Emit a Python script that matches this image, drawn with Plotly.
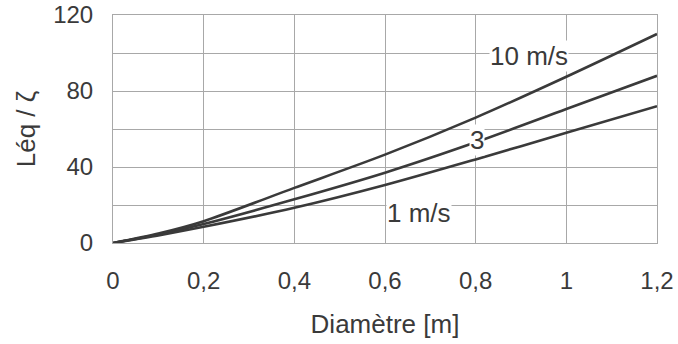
import plotly.graph_objects as go

diam = [0, 0.1, 0.2, 0.4, 0.6, 0.8, 1.0, 1.2]
v10 = [0, 5, 11.5, 29, 46.5, 66, 87.5, 110]
v3 = [0, 4.5, 10, 23, 37, 53, 70.5, 88]
v1 = [0, 4, 8.5, 18.5, 30.5, 44, 58, 72]

labels = [("10 m/s", 0.918, 98.4), ("3", 0.802, 54), ("1 m/s", 0.676, 16)]

ink = "#3a3a3a"
fam = "Liberation Sans, Arial, sans-serif"
fig = go.Figure()
for ys in (v10, v3, v1):
    fig.add_trace(go.Scatter(x=diam, y=ys, mode="lines",
                             line=dict(color=ink, width=2.6, shape="spline", smoothing=0.8),
                             showlegend=False, hoverinfo="skip"))

for txt, xx, yy in labels:
    fig.add_annotation(x=xx, y=yy, text=txt, showarrow=False, bgcolor="white",
                       font=dict(size=26, color=ink, family=fam), borderpad=0)

fig.update_layout(
    width=678, height=344,
    margin=dict(l=113, r=21, t=15, b=101),
    paper_bgcolor="white", plot_bgcolor="white",
    font=dict(size=24, color=ink, family=fam),
)
fig.update_xaxes(range=[0, 1.2], tickvals=[0, 0.2, 0.4, 0.6, 0.8, 1.0, 1.2],
                 ticktext=["0", "0,2", "0,4", "0,6", "0,8", "1", "1,2"],
                 showgrid=True, gridcolor="#a8a8a8", gridwidth=1,
                 showline=True, linecolor="#a8a8a8", linewidth=1, mirror=True,
                 zeroline=False, ticks="outside", ticklen=16, tickcolor="rgba(0,0,0,0)",
                 tickfont=dict(size=24), automargin=False, ticklabeloverflow="allow",
                 title=dict(text="Diamètre [m]", font=dict(size=26, color=ink), standoff=22))
fig.update_yaxes(range=[0, 120], tickvals=[0, 20, 40, 60, 80, 100, 120],
                 ticktext=["0", "", "40", "", "80", "", "120"],
                 showgrid=True, gridcolor="#a8a8a8", gridwidth=1,
                 showline=True, linecolor="#a8a8a8", linewidth=1, mirror=True,
                 zeroline=False, ticks="outside", ticklen=14, tickcolor="rgba(0,0,0,0)",
                 tickfont=dict(size=24), automargin=False, ticklabeloverflow="allow",
                 title=dict(text="Léq / ζ", font=dict(size=26, color=ink), standoff=10))

fig.write_html("out.html", config={"displayModeBar": False},
               post_script="document.body.style.margin='0';document.body.style.overflow='hidden';")
